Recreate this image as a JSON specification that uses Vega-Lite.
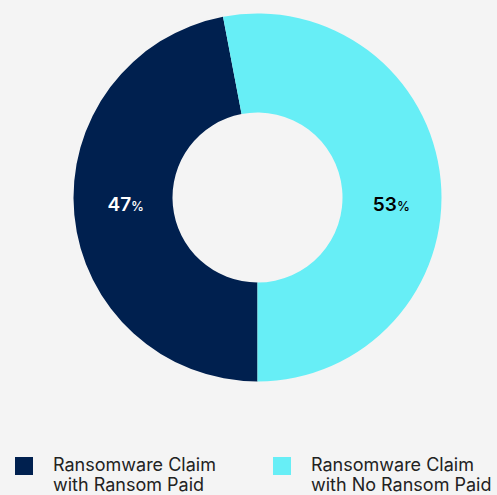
{
  "$schema": "https://vega.github.io/schema/vega-lite/v6.json",
  "width": 369,
  "height": 369,
  "autosize": {"type": "none"},
  "padding": {"left": 73, "top": 13, "right": 55, "bottom": 113},
  "background": "#f4f4f4",
  "config": {"view": {"stroke": null}},
  "data": {"values": [
    {"category": "Ransomware Claim|with Ransom Paid", "value": 47, "label": "47", "rank": 1},
    {"category": "Ransomware Claim|with No Ransom Paid", "value": 53, "label": "53", "rank": 2}
  ]},
  "encoding": {
    "theta": {"field": "value", "type": "quantitative", "stack": true, "scale": {"range": [3.14159, 9.42478]}},
    "order": {"field": "rank", "type": "quantitative"}
  },
  "layer": [
    {
      "mark": {"type": "arc", "outerRadius": 184, "innerRadius": 85},
      "encoding": {
        "color": {
          "field": "category", "type": "nominal",
          "scale": {"domain": ["Ransomware Claim|with Ransom Paid", "Ransomware Claim|with No Ransom Paid"], "range": ["#00204f", "#67eef6"]},
          "legend": {
            "orient": "none", "direction": "horizontal", "columns": 2,
            "legendX": -58, "legendY": 444,
            "title": null,
            "symbolType": "square", "symbolSize": 324, "symbolStrokeWidth": 0,
            "labelExpr": "split(datum.label, '|')",
            "labelFont": "Inter", "labelFontSize": 18, "labelColor": "#222222",
            "labelOffset": 20, "labelLimit": 300,
            "columnPadding": 57,
            "labelBaseline": "middle",
            "encoding": {"labels": {"enter": {"lineHeight": {"value": 21}}, "update": {"lineHeight": {"value": 21}}}}
          }
        }
      }
    },
    {
      "mark": {"type": "text", "radius": 134, "align": "right", "dx": 7, "dy": -5, "font": "Inter", "fontSize": 19, "fontWeight": 600, "baseline": "middle", "color": "#ffffff"},
      "encoding": {"text": {"condition": {"test": "datum.rank == 1", "field": "label"}, "value": ""}}
    },
    {
      "mark": {"type": "text", "radius": 134, "align": "left", "dx": 7, "dy": -3, "font": "Inter", "fontSize": 13, "fontWeight": 500, "baseline": "middle", "color": "#ffffff"},
      "encoding": {"text": {"condition": {"test": "datum.rank == 1", "value": "%"}, "value": ""}}
    },
    {
      "mark": {"type": "text", "radius": 134, "align": "right", "dx": 6, "dy": 20, "font": "Inter", "fontSize": 19, "fontWeight": 600, "baseline": "middle", "color": "#000000"},
      "encoding": {"text": {"condition": {"test": "datum.rank == 2", "field": "label"}, "value": ""}}
    },
    {
      "mark": {"type": "text", "radius": 134, "align": "left", "dx": 6, "dy": 22, "font": "Inter", "fontSize": 13, "fontWeight": 500, "baseline": "middle", "color": "#000000"},
      "encoding": {"text": {"condition": {"test": "datum.rank == 2", "value": "%"}, "value": ""}}
    }
  ]
}
